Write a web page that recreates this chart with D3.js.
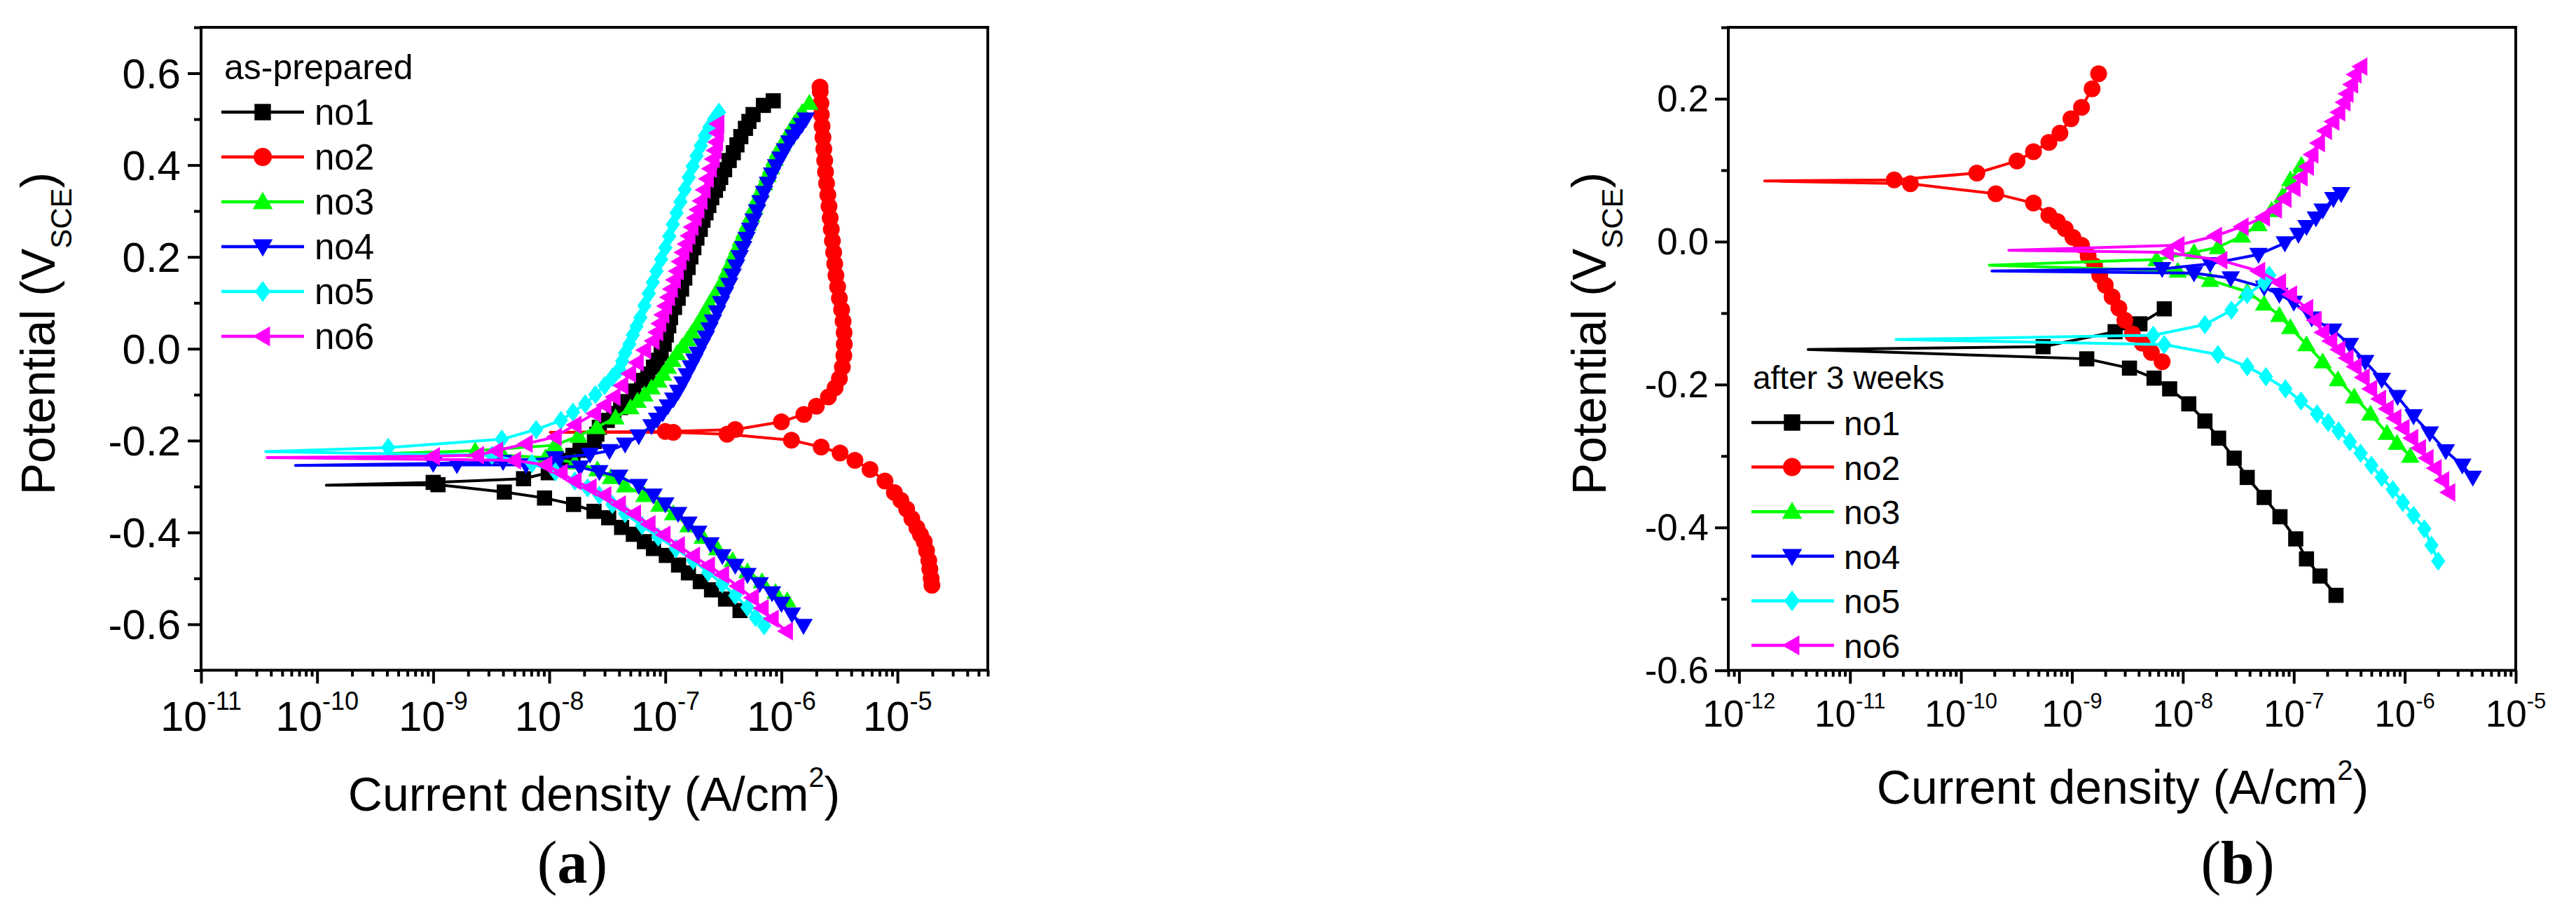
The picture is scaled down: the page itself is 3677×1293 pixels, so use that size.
<!DOCTYPE html>
<html><head><meta charset="utf-8">
<script src="https://cdn.jsdelivr.net/npm/d3@7"></script>
<style>body{margin:0;background:#fff}svg{display:block}</style>
</head><body>
<svg id="c" width="3677" height="1293"></svg>
<script>
// ---------- data ----------
const seriesNames = ["no1","no2","no3","no4","no5","no6"];
const seriesColors = ["#000000","#ff0000","#00ff00","#0000ff","#00ffff","#ff00ff"];
const seriesShapes = ["square","circle","up","down","diamond","left"];

const potTicksA = [-0.6,-0.4,-0.2,0,0.2,0.4,0.6];
const potLabelsA = ["-0.6","-0.4","-0.2","0.0","0.2","0.4","0.6"];
const potMinorA = [-0.7,-0.5,-0.3,-0.1,0.1,0.3,0.5,0.7];
const potTicksB = [-0.6,-0.4,-0.2,0,0.2];
const potLabelsB = ["-0.6","-0.4","-0.2","0.0","0.2"];
const potMinorB = [-0.5,-0.3,-0.1,0.1,0.3];
const decadesA = [-11,-10,-9,-8,-7,-6,-5];
const decadesB = [-12,-11,-10,-9,-8,-7,-6,-5];

// [current density (A/cm2), potential (V_SCE)] in scan order
const prep_no1 = [[4.4e-7,-0.57],[3.3e-7,-0.545],[2.5e-7,-0.525],[2.0e-7,-0.507],[1.58e-7,-0.488],[1.3e-7,-0.471],[1.02e-7,-0.45],[7.9e-8,-0.435],[6.6e-8,-0.42],[5.3e-8,-0.404],[4.2e-8,-0.389],[3.25e-8,-0.368],[2.43e-8,-0.354],[1.62e-8,-0.339],[9.1e-9,-0.325],[4.1e-9,-0.312],[1.1e-9,-0.296],[1.2e-10,-0.297],[1.0e-9,-0.291],[6.0e-9,-0.283],[9.8e-9,-0.27],[1.2e-8,-0.256],[1.37e-8,-0.243],[1.6e-8,-0.232],[1.84e-8,-0.221],[2.45e-8,-0.202],[2.57e-8,-0.186],[2.7e-8,-0.171],[3.16e-8,-0.156],[3.6e-8,-0.141],[4.12e-8,-0.128],[4.7e-8,-0.115],[5.37e-8,-0.092],[6.25e-8,-0.069],[7.08e-8,-0.055],[7.9e-8,-0.04],[8.51e-8,-0.025],[9.2e-8,-0.011],[9.77e-8,0.01],[1.02e-7,0.03],[1.07e-7,0.05],[1.11e-7,0.068],[1.2e-7,0.09],[1.29e-7,0.11],[1.38e-7,0.13],[1.47e-7,0.154],[1.57e-7,0.177],[1.66e-7,0.2],[1.76e-7,0.22],[1.87e-7,0.241],[2.0e-7,0.26],[2.11e-7,0.28],[2.24e-7,0.296],[2.37e-7,0.312],[2.51e-7,0.329],[2.7e-7,0.345],[2.85e-7,0.36],[3.0e-7,0.373],[3.24e-7,0.39],[3.55e-7,0.41],[3.85e-7,0.427],[4.14e-7,0.444],[4.47e-7,0.462],[4.9e-7,0.48],[5.25e-7,0.495],[5.7e-7,0.51],[7.0e-7,0.53],[8.5e-7,0.54]];
const prep_no2 = [[1.98e-5,-0.515],[1.95e-5,-0.5],[1.9e-5,-0.48],[1.86e-5,-0.461],[1.78e-5,-0.44],[1.7e-5,-0.42],[1.58e-5,-0.405],[1.47e-5,-0.39],[1.33e-5,-0.37],[1.2e-5,-0.349],[1.07e-5,-0.33],[9.4e-6,-0.313],[7.8e-6,-0.288],[5.8e-6,-0.263],[4.3e-6,-0.243],[3.2e-6,-0.227],[2.2e-6,-0.214],[1.22e-6,-0.199],[3.4e-7,-0.186],[1.17e-7,-0.182],[1.02e-8,-0.182],[1.0e-7,-0.18],[4.0e-7,-0.176],[1.0e-6,-0.159],[1.56e-6,-0.143],[2.0e-6,-0.125],[2.54e-6,-0.105],[2.9e-6,-0.085],[3.16e-6,-0.065],[3.35e-6,-0.04],[3.45e-6,-0.015],[3.48e-6,0.01],[3.47e-6,0.035],[3.4e-6,0.06],[3.3e-6,0.085],[3.16e-6,0.11],[3.05e-6,0.135],[2.95e-6,0.16],[2.88e-6,0.185],[2.82e-6,0.21],[2.75e-6,0.235],[2.69e-6,0.26],[2.63e-6,0.285],[2.57e-6,0.31],[2.51e-6,0.335],[2.45e-6,0.36],[2.4e-6,0.385],[2.36e-6,0.41],[2.32e-6,0.435],[2.28e-6,0.46],[2.24e-6,0.485],[2.21e-6,0.51],[2.19e-6,0.535],[2.16e-6,0.56],[2.15e-6,0.57]];
const prep_no3 = [[1.12e-6,-0.548],[8.9e-7,-0.53],[6.8e-7,-0.507],[5.1e-7,-0.485],[3.8e-7,-0.461],[2.8e-7,-0.435],[2.1e-7,-0.41],[1.58e-7,-0.385],[1.17e-7,-0.359],[8.9e-8,-0.34],[6.6e-8,-0.319],[4.5e-8,-0.298],[3.4e-8,-0.28],[2.6e-8,-0.263],[1.66e-8,-0.248],[9.3e-9,-0.237],[4.0e-9,-0.232],[4.0e-10,-0.228],[2.3e-9,-0.222],[1.12e-8,-0.21],[1.78e-8,-0.19],[2.57e-8,-0.171],[3.72e-8,-0.15],[5.0e-8,-0.128],[5.75e-8,-0.114],[6.6e-8,-0.1],[7.6e-8,-0.085],[8.7e-8,-0.07],[9.55e-8,-0.055],[1.05e-7,-0.04],[1.15e-7,-0.025],[1.26e-7,-0.01],[1.4e-7,0.005],[1.55e-7,0.02],[1.7e-7,0.035],[1.86e-7,0.05],[2.02e-7,0.065],[2.19e-7,0.08],[2.4e-7,0.098],[2.63e-7,0.115],[2.88e-7,0.132],[3.16e-7,0.15],[3.39e-7,0.168],[3.63e-7,0.185],[3.89e-7,0.203],[4.17e-7,0.22],[4.47e-7,0.238],[4.79e-7,0.255],[5.13e-7,0.272],[5.5e-7,0.29],[5.83e-7,0.308],[6.17e-7,0.325],[6.61e-7,0.343],[7.08e-7,0.36],[7.59e-7,0.378],[8.13e-7,0.395],[8.71e-7,0.413],[9.33e-7,0.43],[1.01e-6,0.445],[1.1e-6,0.46],[1.19e-6,0.475],[1.29e-6,0.49],[1.4e-6,0.503],[1.51e-6,0.515],[1.74e-6,0.535]];
const prep_no4 = [[1.55e-6,-0.603],[1.23e-6,-0.578],[1.0e-6,-0.555],[8.3e-7,-0.532],[6.5e-7,-0.512],[5.1e-7,-0.492],[4.0e-7,-0.472],[3.1e-7,-0.451],[2.45e-7,-0.425],[1.92e-7,-0.4],[1.58e-7,-0.38],[1.29e-7,-0.359],[1.0e-7,-0.338],[7.9e-8,-0.319],[5.9e-8,-0.298],[4.0e-8,-0.278],[2.7e-8,-0.268],[1.84e-8,-0.258],[1.13e-8,-0.255],[6.3e-9,-0.253],[1.6e-9,-0.253],[6.5e-11,-0.254],[1.0e-9,-0.25],[4.0e-9,-0.246],[1.12e-8,-0.238],[2.24e-8,-0.23],[3.3e-8,-0.222],[4.5e-8,-0.208],[5.9e-8,-0.19],[7.6e-8,-0.168],[8.5e-8,-0.154],[9.5e-8,-0.14],[1.05e-7,-0.125],[1.17e-7,-0.11],[1.29e-7,-0.093],[1.41e-7,-0.075],[1.53e-7,-0.057],[1.66e-7,-0.04],[1.78e-7,-0.025],[1.9e-7,-0.01],[2.06e-7,0.008],[2.24e-7,0.025],[2.4e-7,0.043],[2.57e-7,0.06],[2.79e-7,0.08],[3.02e-7,0.1],[3.27e-7,0.12],[3.55e-7,0.14],[3.8e-7,0.16],[4.07e-7,0.18],[4.37e-7,0.2],[4.68e-7,0.22],[5.01e-7,0.24],[5.37e-7,0.26],[5.75e-7,0.28],[6.17e-7,0.3],[6.6e-7,0.32],[7.08e-7,0.34],[7.65e-7,0.36],[8.3e-7,0.38],[9.0e-7,0.398],[9.8e-7,0.415],[1.07e-6,0.433],[1.17e-6,0.45],[1.27e-6,0.463],[1.38e-6,0.475],[1.5e-6,0.488],[1.62e-6,0.5]];
const prep_no5 = [[7.1e-7,-0.603],[6.0e-7,-0.585],[5.1e-7,-0.563],[4.0e-7,-0.537],[3.1e-7,-0.512],[2.34e-7,-0.487],[1.74e-7,-0.461],[1.23e-7,-0.435],[8.7e-8,-0.41],[6.3e-8,-0.385],[4.5e-8,-0.359],[3.5e-8,-0.339],[2.7e-8,-0.319],[2.14e-8,-0.303],[1.66e-8,-0.288],[1.13e-8,-0.268],[7.1e-9,-0.25],[3.2e-9,-0.232],[3.6e-11,-0.224],[4.1e-10,-0.215],[3.9e-9,-0.197],[7.7e-9,-0.176],[1.26e-8,-0.156],[1.6e-8,-0.138],[2.04e-8,-0.12],[2.5e-8,-0.1],[3.0e-8,-0.08],[3.5e-8,-0.062],[4.0e-8,-0.045],[4.25e-8,-0.027],[4.5e-8,-0.009],[4.9e-8,0.01],[5.25e-8,0.03],[5.65e-8,0.049],[6.1e-8,0.068],[6.6e-8,0.094],[7.2e-8,0.12],[7.8e-8,0.145],[8.4e-8,0.169],[9.2e-8,0.195],[1.0e-7,0.22],[1.08e-7,0.245],[1.16e-7,0.271],[1.25e-7,0.296],[1.35e-7,0.32],[1.47e-7,0.347],[1.59e-7,0.373],[1.72e-7,0.397],[1.86e-7,0.42],[2.02e-7,0.442],[2.19e-7,0.464],[2.4e-7,0.483],[2.63e-7,0.5],[2.9e-7,0.515]];
const prep_no6 = [[1.1e-6,-0.615],[8.3e-7,-0.588],[6.8e-7,-0.565],[5.6e-7,-0.542],[4.2e-7,-0.517],[3.1e-7,-0.492],[2.34e-7,-0.472],[1.74e-7,-0.451],[1.29e-7,-0.428],[9.7e-8,-0.405],[7.2e-8,-0.382],[5.4e-8,-0.359],[4.0e-8,-0.339],[3.0e-8,-0.319],[2.24e-8,-0.302],[1.66e-8,-0.288],[1.26e-8,-0.27],[9.3e-9,-0.253],[5.0e-9,-0.243],[3.7e-11,-0.237],[1.0e-9,-0.234],[2.4e-9,-0.232],[3.5e-9,-0.222],[6.3e-9,-0.207],[1.12e-8,-0.192],[1.66e-8,-0.166],[2.45e-8,-0.141],[3.0e-8,-0.123],[3.6e-8,-0.105],[4.2e-8,-0.08],[4.9e-8,-0.054],[5.7e-8,-0.03],[6.6e-8,-0.003],[7.8e-8,0.017],[8.4e-8,0.036],[8.9e-8,0.055],[9.45e-8,0.074],[1.0e-7,0.093],[1.06e-7,0.112],[1.12e-7,0.13],[1.19e-7,0.15],[1.26e-7,0.169],[1.33e-7,0.19],[1.41e-7,0.21],[1.5e-7,0.228],[1.59e-7,0.246],[1.69e-7,0.265],[1.8e-7,0.285],[1.9e-7,0.303],[2.02e-7,0.322],[2.15e-7,0.346],[2.29e-7,0.37],[2.43e-7,0.392],[2.57e-7,0.413],[2.67e-7,0.432],[2.75e-7,0.45],[2.8e-7,0.47],[2.82e-7,0.49]];

const week3_no1 = [[2.4e-7,-0.495],[1.72e-7,-0.468],[1.3e-7,-0.444],[1.04e-7,-0.416],[7.5e-8,-0.385],[5.4e-8,-0.358],[3.8e-8,-0.33],[2.9e-8,-0.303],[2.1e-8,-0.275],[1.58e-8,-0.251],[1.13e-8,-0.227],[7.6e-9,-0.206],[5.5e-9,-0.191],[3.3e-9,-0.177],[1.36e-9,-0.164],[4.2e-12,-0.151],[5.5e-10,-0.147],[2.45e-9,-0.126],[4.1e-9,-0.115],[6.8e-9,-0.094]];
const week3_no2 = [[6.5e-9,-0.168],[5.2e-9,-0.155],[4.3e-9,-0.142],[3.5e-9,-0.129],[3.0e-9,-0.11],[2.65e-9,-0.093],[2.3e-9,-0.077],[2.0e-9,-0.061],[1.78e-9,-0.047],[1.6e-9,-0.034],[1.4e-9,-0.02],[1.22e-9,-0.005],[1.02e-9,0.006],[8.7e-10,0.018],[7.4e-10,0.028],[6.2e-10,0.037],[4.5e-10,0.054],[2.06e-10,0.067],[3.5e-11,0.081],[1.7e-12,0.085],[2.5e-11,0.0865],[1.39e-10,0.096],[3.2e-10,0.113],[4.5e-10,0.126],[6.2e-10,0.139],[7.8e-10,0.152],[9.8e-10,0.172],[1.22e-9,0.188],[1.52e-9,0.214],[1.74e-9,0.235]];
const week3_no3 = [[1.12e-6,-0.3],[8.5e-7,-0.282],[6.9e-7,-0.268],[4.9e-7,-0.241],[3.5e-7,-0.217],[2.5e-7,-0.193],[1.82e-7,-0.168],[1.3e-7,-0.144],[9.3e-8,-0.12],[7.4e-8,-0.103],[5.4e-8,-0.087],[3.8e-8,-0.07],[1.76e-8,-0.054],[9.0e-9,-0.041],[1.8e-10,-0.033],[5.8e-9,-0.025],[1.26e-8,-0.015],[2.07e-8,-0.008],[3.4e-8,0.008],[4.8e-8,0.024],[6.3e-8,0.044],[7.9e-8,0.064],[9.3e-8,0.087],[1.17e-7,0.107]];
const week3_no4 = [[4.1e-6,-0.33],[3.3e-6,-0.313],[2.34e-6,-0.293],[1.68e-6,-0.268],[1.2e-6,-0.244],[8.6e-7,-0.217],[6.2e-7,-0.193],[4.4e-7,-0.168],[3.2e-7,-0.144],[2.26e-7,-0.124],[1.45e-7,-0.107],[1.0e-7,-0.085],[7.4e-8,-0.074],[5.4e-8,-0.064],[2.7e-8,-0.051],[1.26e-8,-0.044],[1.9e-10,-0.041],[6.5e-9,-0.038],[1.76e-8,-0.031],[4.8e-8,-0.018],[8.3e-8,-0.002],[1.1e-7,0.01],[1.3e-7,0.021],[1.58e-7,0.033],[1.82e-7,0.044],[2.27e-7,0.06],[2.67e-7,0.067]];
const week3_no5 = [[2.0e-6,-0.447],[1.74e-6,-0.425],[1.5e-6,-0.402],[1.2e-6,-0.383],[9.6e-7,-0.365],[7.8e-7,-0.347],[6.2e-7,-0.33],[5.0e-7,-0.313],[4.0e-7,-0.296],[3.2e-7,-0.28],[2.53e-7,-0.265],[2.04e-7,-0.253],[1.62e-7,-0.241],[1.16e-7,-0.223],[8.4e-8,-0.206],[5.6e-8,-0.189],[3.8e-8,-0.175],[2.07e-8,-0.158],[6.8e-9,-0.144],[2.6e-11,-0.137],[5.4e-9,-0.131],[1.58e-8,-0.116],[2.74e-8,-0.096],[3.8e-8,-0.074],[5.4e-8,-0.057],[6.0e-8,-0.047]];
const week3_no6 = [[2.48e-6,-0.351],[2.19e-6,-0.334],[1.87e-6,-0.317],[1.58e-6,-0.303],[1.35e-6,-0.289],[1.15e-6,-0.275],[9.6e-7,-0.261],[8.1e-7,-0.247],[6.9e-7,-0.234],[5.9e-7,-0.22],[4.9e-7,-0.206],[4.2e-7,-0.19],[3.55e-7,-0.175],[3.0e-7,-0.163],[2.53e-7,-0.151],[2.14e-7,-0.139],[1.82e-7,-0.127],[1.55e-7,-0.11],[1.3e-7,-0.093],[9.3e-8,-0.074],[7.4e-8,-0.057],[4.8e-8,-0.041],[2.19e-8,-0.026],[7.2e-9,-0.015],[2.7e-10,-0.012],[9.0e-9,-0.005],[1.96e-8,0.008],[3.4e-8,0.021],[5.3e-8,0.034],[6.8e-8,0.045],[8.3e-8,0.06],[1.0e-7,0.075],[1.16e-7,0.09],[1.32e-7,0.105],[1.45e-7,0.122],[1.66e-7,0.138],[1.92e-7,0.155],[2.24e-7,0.168],[2.53e-7,0.181],[2.82e-7,0.195],[3.0e-7,0.207],[3.3e-7,0.22],[3.55e-7,0.234],[4.0e-7,0.245]];

// ---------- layout ----------
const FONT = "'Liberation Sans', Arial, sans-serif";
const SERIF = "'Liberation Serif', 'Times New Roman', serif";
const panels = [
  {series:[prep_no1,prep_no2,prep_no3,prep_no4,prep_no5,prep_no6],
   left:287, right:1410, top:39, bottom:956.5, xDomain:[1e-11,6e-5], yDomain:[-0.7,0.7],
   yTicks:potTicksA, yLabels:potLabelsA, yMinor:potMinorA, decades:decadesA,
   tickFont:60, supFont:36, supDy:-30, xLabBase:1043, yLabRight:258, yLabDy:21,
   xTitleX:848, xTitleY:1157, yTitleX:78, yTitleY:476,
   legTitle:"as-prepared", legTitleX:320, legTitleY:113, legTitleFont:50,
   legX0:316, legX1:434, legMX:375, legTX:449, legY0:160, legDY:64, legFont:51,
   tag:"a", tagX:817, marker:24, lineW:4},
  {series:[week3_no1,week3_no2,week3_no3,week3_no4,week3_no5,week3_no6],
   left:2467, right:3591, top:39, bottom:956.7, xDomain:[8e-13,1e-5], yDomain:[-0.6,0.3],
   yTicks:potTicksB, yLabels:potLabelsB, yMinor:potMinorB, decades:decadesB,
   tickFont:53, supFont:31, supDy:-26, xLabBase:1037, yLabRight:2439, yLabDy:18,
   xTitleX:3030, xTitleY:1147, yTitleX:2292, yTitleY:476,
   legTitle:"after 3 weeks", legTitleX:2502, legTitleY:555, legTitleFont:46,
   legX0:2500, legX1:2618, legMX:2558, legTX:2632, legY0:603, legDY:63.6, legFont:48,
   tag:"b", tagX:3194, marker:24, lineW:4}
];

function markerPath(type, s){
  const h = s/2;
  switch(type){
    case "square": { const a=h*0.9; return `M${-a},${-a}H${a}V${a}H${-a}Z`; }
    case "circle": return d3.symbol(d3.symbolCircle, Math.PI*h*h)();
    case "up": return `M0,${-h*1.1}L${h*1.1},${h*0.8}L${-h*1.1},${h*0.8}Z`;
    case "down": return `M0,${h*1.1}L${h*1.1},${-h*0.8}L${-h*1.1},${-h*0.8}Z`;
    case "diamond": return `M0,${-h*1.15}L${h*0.85},0L0,${h*1.15}L${-h*0.85},0Z`;
    case "left": return `M${-h*1.1},0L${h*0.8},${-h*1.1}L${h*0.8},${h*1.1}Z`;
  }
}

const svg = d3.select("#c");
svg.append("rect").attr("width",3677).attr("height",1293).attr("fill","#fff");

panels.forEach(p=>{
  const x = d3.scaleLog().domain(p.xDomain).range([p.left,p.right]);
  const y = d3.scaleLinear().domain(p.yDomain).range([p.bottom,p.top]);
  const g = svg.append("g");

  // series
  p.series.forEach((data,k)=>{
    const line = d3.line().x(d=>x(d[0])).y(d=>y(d[1]));
    g.append("path").attr("d",line(data)).attr("fill","none")
      .attr("stroke",seriesColors[k]).attr("stroke-width",p.lineW).attr("stroke-linejoin","round");
    const minI = d3.minIndex(data,d=>d[0]);
    g.append("g").selectAll("path").data(data.filter((d,i)=>i!==minI)).join("path")
      .attr("transform",d=>`translate(${x(d[0])},${y(d[1])})`)
      .attr("d",markerPath(seriesShapes[k],p.marker)).attr("fill",seriesColors[k]);
  });

  // frame
  g.append("rect").attr("x",p.left).attr("y",p.top).attr("width",p.right-p.left)
    .attr("height",p.bottom-p.top).attr("fill","none").attr("stroke","#000").attr("stroke-width",4);

  // ticks
  const major = p.decades.map(e=>Math.pow(10,e));
  const minor = [];
  for(let e=Math.floor(Math.log10(p.xDomain[0]))-1; e<=Math.ceil(Math.log10(p.xDomain[1])); e++){
    for(let m=2;m<=9;m++){ const v=m*Math.pow(10,e); if(v>=p.xDomain[0]*0.999 && v<=p.xDomain[1]*1.001) minor.push(v); }
  }
  const ax = (vals,len)=>g.append("g").attr("transform",`translate(0,${p.bottom})`)
    .call(d3.axisBottom(x).tickValues(vals).tickSize(len).tickFormat(""))
    .call(s=>{s.select(".domain").remove(); s.selectAll("line").attr("stroke","#000").attr("stroke-width",4);});
  ax(major,19); ax(minor,9);
  const ay = (vals,len)=>g.append("g").attr("transform",`translate(${p.left},0)`)
    .call(d3.axisLeft(y).tickValues(vals).tickSize(len).tickFormat(""))
    .call(s=>{s.select(".domain").remove(); s.selectAll("line").attr("stroke","#000").attr("stroke-width",4);});
  ay(p.yTicks,19); ay(p.yMinor,10);

  // x tick labels
  p.decades.forEach(e=>{
    const t = g.append("text").attr("x",x(Math.pow(10,e))).attr("y",p.xLabBase)
      .attr("text-anchor","middle").attr("font-family",FONT).attr("font-size",p.tickFont);
    t.append("tspan").text("10");
    t.append("tspan").attr("dy",p.supDy).attr("font-size",p.supFont).text(String(e));
  });
  // y tick labels
  p.yTicks.forEach((v,i)=>{
    g.append("text").attr("x",p.yLabRight).attr("y",y(v)+p.yLabDy).attr("text-anchor","end")
      .attr("font-family",FONT).attr("font-size",p.tickFont).text(p.yLabels[i]);
  });

  // x title
  const xt = g.append("text").attr("x",p.xTitleX).attr("y",p.xTitleY).attr("text-anchor","middle")
    .attr("font-family",FONT).attr("font-size",68);
  xt.append("tspan").text("Current density (A/cm");
  xt.append("tspan").attr("dy",-34).attr("font-size",40).text("2");
  xt.append("tspan").attr("dy",34).text(")");

  // y title
  const yt = g.append("text").attr("transform",`translate(${p.yTitleX},${p.yTitleY}) rotate(-90)`)
    .attr("text-anchor","middle").attr("font-family",FONT).attr("font-size",68);
  yt.append("tspan").text("Potential (V");
  yt.append("tspan").attr("dy",24).attr("font-size",42).text("SCE");
  yt.append("tspan").attr("dy",-24).text(")");

  // legend
  g.append("text").attr("x",p.legTitleX).attr("y",p.legTitleY).attr("font-family",FONT)
    .attr("font-size",p.legTitleFont).text(p.legTitle);
  seriesNames.forEach((n,k)=>{
    const yy = p.legY0 + k*p.legDY;
    g.append("line").attr("x1",p.legX0).attr("x2",p.legX1).attr("y1",yy).attr("y2",yy)
      .attr("stroke",seriesColors[k]).attr("stroke-width",4.5);
    g.append("path").attr("transform",`translate(${p.legMX},${yy})`)
      .attr("d",markerPath(seriesShapes[k],26)).attr("fill",seriesColors[k]);
    g.append("text").attr("x",p.legTX).attr("y",yy+18).attr("font-family",FONT)
      .attr("font-size",p.legFont).text(n);
  });

  // panel tag
  const tg = svg.append("text").attr("x",p.tagX).attr("y",1260).attr("text-anchor","middle")
    .attr("font-family",SERIF).attr("font-size",86);
  tg.append("tspan").text("(");
  tg.append("tspan").attr("font-weight","bold").text(p.tag);
  tg.append("tspan").text(")");
});
</script>
</body></html>
